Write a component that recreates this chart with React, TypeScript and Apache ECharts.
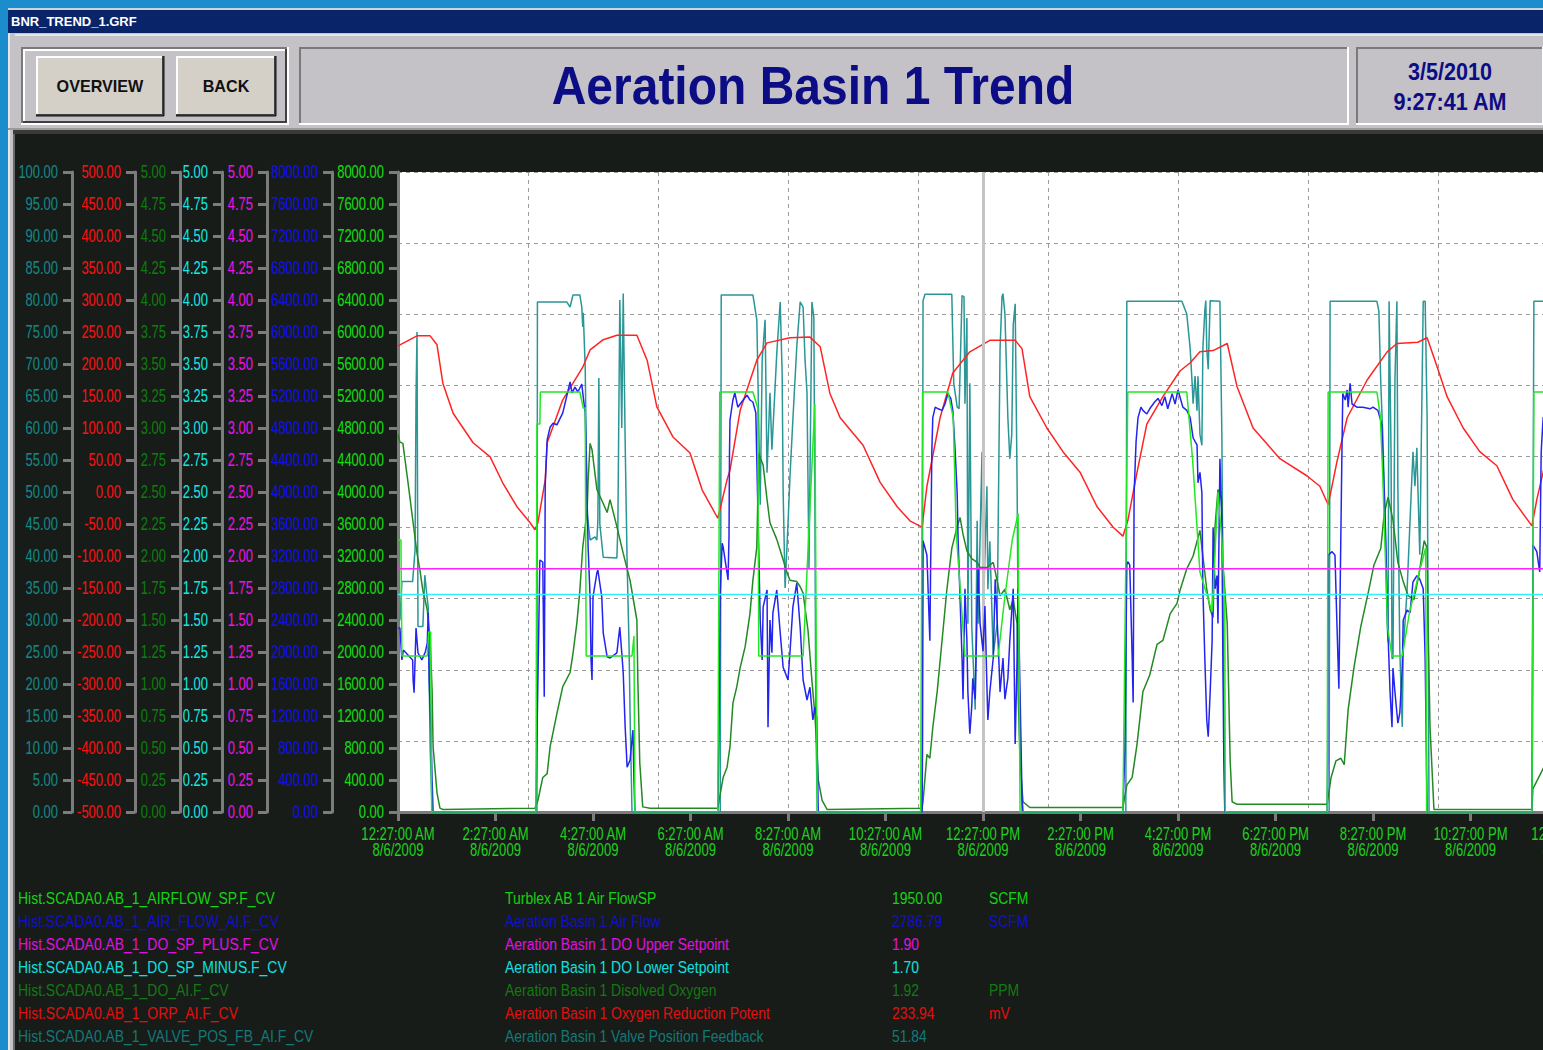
import React, { useEffect, useRef } from "react";
import * as echarts from "echarts";

// ---------------- DATA ----------------
const windowTitle = "BNR_TREND_1.GRF";
const chartTitle = "Aeration Basin 1 Trend";
const dateText = "3/5/2010";
const timeText = "9:27:41 AM";
const buttonLabels = ["OVERVIEW", "BACK"];

// x axis: hours since 12:27:00 AM 8/6/2009
const xTimeLabels = ["12:27:00 AM", "2:27:00 AM", "4:27:00 AM", "6:27:00 AM", "8:27:00 AM", "10:27:00 AM", "12:27:00 PM", "2:27:00 PM", "4:27:00 PM", "6:27:00 PM", "8:27:00 PM", "10:27:00 PM", "12:27:00 AM"];
const xDateLabels = ["8/6/2009", "8/6/2009", "8/6/2009", "8/6/2009", "8/6/2009", "8/6/2009", "8/6/2009", "8/6/2009", "8/6/2009", "8/6/2009", "8/6/2009", "8/6/2009", "8/7/2009"];
const xMin = 0;
const xMax = 24;
const xStep = 2;
const cursorHour = 12;

// y scales (valve %, ORP mV, DO, DO lower SP, DO upper SP, air flow, air flow SP)
const scaleMins = [0, -500, 0, 0, 0, 0, 0];
const scaleMaxs = [100, 500, 5, 5, 5, 8000, 8000];
const scaleSteps = [5, 50, 0.25, 0.25, 0.25, 400, 400];

// legend table
const legendTags = [
  "Hist.SCADA0.AB_1_AIRFLOW_SP.F_CV",
  "Hist.SCADA0.AB_1_AIR_FLOW_AI.F_CV",
  "Hist.SCADA0.AB_1_DO_SP_PLUS.F_CV",
  "Hist.SCADA0.AB_1_DO_SP_MINUS.F_CV",
  "Hist.SCADA0.AB_1_DO_AI.F_CV",
  "Hist.SCADA0.AB_1_ORP_AI.F_CV",
  "Hist.SCADA0.AB_1_VALVE_POS_FB_AI.F_CV",
];
const legendDescs = [
  "Turblex AB 1 Air FlowSP",
  "Aeration Basin 1 Air Flow",
  "Aeration Basin 1 DO Upper Setpoint",
  "Aeration Basin 1 DO Lower Setpoint",
  "Aeration Basin 1 Disolved Oxygen",
  "Aeration Basin 1 Oxygen Reduction Potent",
  "Aeration Basin 1 Valve Position Feedback",
];
const legendValues = ["1950.00", "2786.79", "1.90", "1.70", "1.92", "233.94", "51.84"];
const legendUnits = ["SCFM", "SCFM", "", "", "PPM", "mV", ""];

// series: [hour, value]
const doUpperSp = [[0, 1.9], [24, 1.9]];
const doLowerSp = [[0, 1.7], [24, 1.7]];

const orpData = [
  [0, 228], [0.04, 230], [0.39, 244], [0.66, 244], [0.8, 230], [0.92, 170], [1.13, 123], [1.54, 77], [1.89, 55], [2.15, 14], [2.44, -23], [2.71, -48], [2.81, -59], [2.87, -48], [3.02, 19], [3.06, 77],
  [3.38, 144], [3.79, 195], [3.94, 222], [4.21, 238], [4.49, 245], [4.9, 245], [5.11, 206], [5.31, 133], [5.64, 86], [5.99, 61], [6.24, 3], [6.56, -41], [6.75, 19], [6.81, 34], [7.02, 128],
  [7.36, 206], [7.57, 233], [8.04, 241], [8.45, 242], [8.66, 227], [8.86, 154], [9.07, 116], [9.54, 73], [9.89, 15], [10.24, -23], [10.5, -45], [10.75, -55], [10.85, 9], [11.12, 116],
  [11.38, 186], [11.73, 219], [12.14, 237], [12.66, 237], [12.8, 224], [12.96, 149], [13.31, 100], [13.64, 63], [13.99, 31], [14.34, -23], [14.67, -55], [14.87, -69], [14.97, -45],
  [15.16, 31], [15.36, 106], [15.69, 149], [16.04, 189], [16.25, 202], [16.45, 219], [16.72, 221], [17.01, 232], [17.21, 165], [17.54, 100], [18.09, 52], [18.65, 25], [18.91, 9],
  [19.08, -20], [19.26, 47], [19.47, 116], [19.88, 175], [20.29, 219], [20.49, 232], [20.92, 234], [21.11, 241], [21.31, 197], [21.52, 149], [21.85, 100], [22.19, 63], [22.54, 41],
  [22.87, -12], [23.26, -53], [23.36, -12], [23.49, 31], [23.75, 120], [24, 170],
];

const airFlowSpData = [
  [0, 3400], [0.06, 3400], [0.08, 1950], [0.6, 1950], [0.63, 2250], [0.67, 2250], [0.69, 0],
  [2.83, 0], [2.85, 4850], [2.91, 4850], [2.92, 5250], [3.73, 5250], [3.8, 5050], [3.84, 5050], [3.86, 1950], [4.8, 1950], [4.84, 2200], [4.86, 0],
  [6.56, 0], [6.6, 5250], [7.28, 5250], [7.38, 5050], [7.4, 1950], [8.31, 1950], [8.45, 3800], [8.55, 5100], [8.6, 0],
  [10.72, 0], [10.76, 5250], [11.28, 5250], [11.39, 4930], [11.45, 3500], [11.63, 1950], [12.31, 1950], [12.45, 2700], [12.6, 3400], [12.72, 3730], [12.76, 0],
  [14.87, 0], [14.97, 5250], [16.18, 5250], [16.3, 4400], [16.45, 3000], [16.7, 2500], [16.82, 4000], [16.9, 3400], [16.96, 2600], [16.97, 0],
  [19.06, 0], [19.08, 5250], [20.08, 5250], [20.15, 4950], [20.2, 4200], [20.3, 2300], [20.39, 1950], [20.6, 1950], [20.75, 2500], [20.95, 3000], [21.08, 3300], [21.1, 0],
  [23.26, 0], [23.3, 5250], [24, 5250],
];

const airFlowData = [
  [0, 2300], [0.04, 2300], [0.08, 1900], [0.11, 2025], [0.3, 1900], [0.31, 1650], [0.33, 1490], [0.37, 2300], [0.41, 1990], [0.49, 1900], [0.56, 2000], [0.6, 2110], [0.62, 2490], [0.64, 1650], [0.68, 900], [0.7, 400], [0.72, 0],
  [2.83, 0], [2.85, 900], [2.91, 3150], [2.97, 3125], [3.0, 1440], [3.02, 4090], [3.06, 4650], [3.12, 4810], [3.18, 4860], [3.26, 4840], [3.38, 4990], [3.53, 5375], [3.57, 5240], [3.63, 5310], [3.69, 5250], [3.77, 5350], [3.79, 5240], [3.84, 4990], [3.88, 3900], [3.9, 3310], [3.94, 2690], [3.96, 1900], [3.98, 1650], [4.0, 2690], [4.08, 2990], [4.1, 3025], [4.18, 2690], [4.21, 2240], [4.29, 1940], [4.35, 1925], [4.49, 1990], [4.55, 2310], [4.59, 1990], [4.62, 1740], [4.66, 1060], [4.7, 560], [4.76, 650], [4.82, 1025], [4.84, 400], [4.86, 0],
  [6.56, 0], [6.58, 810], [6.61, 2740], [6.65, 3360], [6.67, 3310], [6.75, 2990], [6.77, 2900], [6.79, 3440], [6.8, 4490], [6.81, 4900], [6.87, 5150], [6.91, 5240], [6.97, 5060], [7.08, 5150], [7.16, 5210], [7.22, 5150], [7.28, 5125], [7.34, 4990], [7.43, 2400], [7.47, 1900], [7.49, 2560], [7.57, 2775], [7.59, 1060], [7.63, 2400], [7.67, 1990], [7.69, 2490], [7.77, 2775], [7.84, 2240], [7.9, 1810], [8.0, 1650], [8.04, 1990], [8.1, 2560], [8.18, 2860], [8.25, 2310], [8.31, 1650], [8.39, 1400], [8.45, 1560], [8.51, 1150], [8.55, 1310], [8.59, 1190], [8.62, 0],
  [10.75, 0], [10.76, 894], [10.77, 3390], [10.85, 3210], [10.91, 2140], [10.95, 4500], [10.97, 4930], [11.02, 5060], [11.08, 5040], [11.16, 5020], [11.22, 5100], [11.28, 5230], [11.34, 5170], [11.38, 5020], [11.43, 4500], [11.47, 3990], [11.49, 3390], [11.57, 1925], [11.59, 1410], [11.63, 2790], [11.67, 2140], [11.69, 1500], [11.73, 980], [11.77, 1325], [11.79, 1670], [11.84, 1410], [11.88, 2575], [11.9, 3040], [11.94, 2355], [12.0, 2010], [12.04, 2575], [12.08, 1580], [12.1, 1150], [12.14, 1500], [12.21, 1925], [12.25, 2910], [12.31, 2140], [12.35, 1500], [12.41, 1925], [12.45, 1410], [12.51, 1670], [12.55, 2140], [12.62, 2790], [12.66, 850], [12.7, 1925], [12.72, 2790], [12.76, 1500], [12.8, 206], [12.82, 0],
  [14.87, 0], [14.91, 765], [14.95, 3090], [14.97, 3130], [15.01, 3090], [15.06, 1925], [15.08, 1370], [15.1, 3990], [15.14, 4630], [15.18, 4930], [15.24, 5060], [15.28, 5020], [15.36, 4975], [15.42, 5040], [15.52, 5125], [15.59, 5170], [15.67, 5080], [15.73, 5190], [15.79, 5040], [15.88, 5230], [15.94, 5100], [16.0, 5275], [16.1, 5060], [16.18, 5020], [16.25, 4930], [16.31, 4675], [16.39, 4590], [16.41, 4115], [16.45, 4245], [16.49, 3990], [16.51, 2790], [16.55, 1925], [16.59, 1150], [16.62, 940], [16.66, 1500], [16.7, 2140], [16.72, 3560], [16.76, 2790], [16.8, 2955], [16.82, 2355], [16.86, 4415], [16.9, 3645], [16.92, 1925], [16.94, 640], [16.96, 0],
  [19.06, 0], [19.07, 640], [19.08, 3210], [19.16, 3255], [19.22, 3210], [19.26, 2355], [19.3, 1540], [19.36, 4375], [19.38, 5230], [19.43, 5150], [19.47, 5275], [19.49, 5060], [19.53, 5360], [19.57, 5100], [19.67, 5060], [19.79, 5060], [19.94, 5040], [20.0, 5060], [20.1, 5020], [20.18, 4845], [20.25, 3645], [20.31, 2190], [20.35, 1500], [20.39, 1060], [20.41, 1800], [20.45, 1500], [20.49, 1240], [20.51, 1110], [20.55, 1240], [20.6, 1800], [20.62, 2400], [20.7, 2525], [20.76, 2490], [20.82, 2875], [20.9, 2955], [20.96, 2910], [21.03, 2790], [21.07, 1925], [21.11, 0],
  [23.26, 0], [23.27, 850], [23.28, 3340], [23.36, 3255], [23.42, 3000], [23.45, 4500], [23.49, 4930], [24, 5100],
];

const doData = [
  [0, 2.95], [0.04, 2.89], [0.1, 2.88], [0.2, 2.59], [0.25, 2.44], [0.31, 2.26], [0.39, 2.02], [0.45, 1.89], [0.51, 1.73], [0.6, 1.58], [0.62, 1.5], [0.66, 1.34], [0.7, 0.95], [0.72, 0.51], [0.8, 0.15], [0.86, 0.03], [0.92, 0.02],
  [2.81, 0.03], [2.87, 0.09], [2.97, 0.27], [3.06, 0.3], [3.12, 0.51], [3.18, 0.62], [3.26, 0.77], [3.38, 0.98], [3.53, 1.09], [3.59, 1.24], [3.67, 1.48], [3.73, 1.73], [3.79, 2.07], [3.88, 2.36], [3.9, 2.59], [3.94, 2.88], [3.98, 2.83], [4.08, 2.52], [4.21, 2.41], [4.29, 2.34], [4.35, 2.44], [4.39, 2.38], [4.49, 2.23], [4.62, 2.02], [4.76, 1.81], [4.9, 1.5], [4.92, 1.03], [4.96, 0.38], [5.02, 0.04], [5.17, 0.03],
  [6.56, 0.03], [6.67, 0.27], [6.75, 0.35], [6.81, 0.51], [6.87, 0.85], [6.95, 0.98], [7.02, 1.13], [7.12, 1.29], [7.22, 1.55], [7.28, 1.81], [7.36, 2.07], [7.4, 2.8], [7.43, 2.77], [7.49, 2.71], [7.57, 2.44], [7.63, 2.26], [7.77, 2.13], [7.9, 1.97], [7.98, 1.87], [8.04, 1.81], [8.18, 1.8], [8.25, 1.76], [8.31, 1.71], [8.41, 1.42], [8.49, 1.03], [8.55, 0.77], [8.59, 0.51], [8.62, 0.25], [8.7, 0.09], [8.8, 0.02],
  [10.75, 0.03], [10.77, 0.08], [10.85, 0.45], [10.91, 0.42], [10.97, 0.66], [11.06, 0.94], [11.16, 1.34], [11.26, 1.74], [11.36, 2.06], [11.47, 2.23], [11.53, 2.3], [11.59, 2.17], [11.67, 2.04], [11.77, 1.98], [11.88, 1.95], [11.94, 1.91], [12.08, 1.91], [12.21, 1.95], [12.25, 1.88], [12.35, 1.69], [12.45, 1.74], [12.55, 1.58], [12.62, 1.66], [12.7, 1.47], [12.72, 0.94], [12.76, 0.4], [12.82, 0.08], [12.96, 0.035],
  [14.87, 0.035], [14.95, 0.21], [15.06, 0.27], [15.16, 0.53], [15.28, 0.94], [15.42, 1.07], [15.57, 1.31], [15.69, 1.34], [15.84, 1.55], [15.98, 1.63], [16.04, 1.73], [16.18, 1.9], [16.31, 2.0], [16.45, 2.2], [16.51, 2.0], [16.59, 1.74], [16.66, 1.58], [16.72, 1.52], [16.76, 2.23], [16.82, 2.52], [16.9, 2.44], [16.92, 1.95], [17.01, 1.47], [17.07, 0.4], [17.11, 0.08], [17.21, 0.06],
  [19.06, 0.06], [19.14, 0.27], [19.24, 0.4], [19.34, 0.42], [19.41, 0.37], [19.49, 0.8], [19.61, 1.13], [19.75, 1.45], [19.9, 1.71], [20.02, 1.93], [20.16, 2.06], [20.23, 2.33], [20.31, 2.46], [20.41, 2.28], [20.51, 1.95], [20.62, 1.8], [20.72, 1.69], [20.84, 1.66], [20.94, 1.85], [21.05, 2.12], [21.11, 2.06], [21.13, 1.47], [21.17, 0.66], [21.25, 0.02],
  [23.26, 0.02], [23.28, 0.18], [23.49, 0.34], [24, 0.6],
];

const valveData = [
  [0, 30], [0.04, 30], [0.08, 36], [0.3, 36], [0.35, 41], [0.37, 65], [0.39, 75], [0.41, 29], [0.51, 29], [0.55, 37], [0.59, 34], [0.62, 32], [0.66, 10], [0.7, 0],
  [2.85, 0], [2.86, 79.7], [3.46, 79.7], [3.53, 78.9], [3.59, 80.8], [3.73, 80.8], [3.77, 78.9], [3.79, 75.8], [3.8, 78], [3.84, 69.5], [3.88, 46.7], [3.94, 42.5], [4.04, 43], [4.08, 42.5], [4.1, 45.6], [4.12, 67.8], [4.14, 45], [4.21, 39.8], [4.49, 39.7], [4.51, 44.5], [4.55, 80], [4.59, 60], [4.62, 81], [4.66, 57.7], [4.7, 38.9], [4.74, 25.8], [4.76, 15.5], [4.8, 0],
  [6.61, 0], [6.63, 80.8], [7.28, 80.8], [7.32, 78.9], [7.36, 76.9], [7.38, 69], [7.43, 48], [7.47, 70.6], [7.53, 76.9], [7.57, 53], [7.63, 65.5], [7.67, 56.6], [7.77, 71.7], [7.84, 79.7], [7.88, 68.6], [7.9, 50.3], [7.94, 35], [8.0, 45], [8.04, 52.3], [8.1, 61.3], [8.18, 72.7], [8.25, 79.7], [8.31, 78.9], [8.35, 70.6], [8.39, 65.5], [8.43, 38], [8.49, 79.7], [8.53, 77.3], [8.55, 50.3], [8.57, 15.5], [8.6, 0],
  [10.75, 0], [10.77, 79.9], [10.81, 80.9], [11.36, 80.9], [11.4, 67], [11.47, 63.3], [11.51, 63], [11.57, 80.7], [11.61, 80.5], [11.63, 63.8], [11.67, 77.2], [11.69, 29.4], [11.73, 67], [11.77, 28.9], [11.84, 16], [11.88, 45.5], [11.9, 29.4], [11.98, 56.3], [12.0, 29.4], [12.08, 50.9], [12.1, 34.8], [12.14, 42.3], [12.21, 24.6], [12.29, 29.4], [12.35, 72.4], [12.39, 80.5], [12.41, 81], [12.45, 77.8], [12.51, 61.6], [12.55, 55.2], [12.59, 59], [12.62, 76.1], [12.66, 79.4], [12.7, 50.9], [12.72, 29.4], [12.76, 13.3], [12.8, 0],
  [14.93, 0], [14.95, 79.8], [16.08, 79.8], [16.18, 77.8], [16.25, 72.4], [16.29, 67], [16.31, 63.8], [16.35, 68.1], [16.39, 62.7], [16.41, 68.1], [16.45, 59], [16.49, 57.3], [16.51, 72.4], [16.55, 78.3], [16.57, 79.9], [16.59, 72.4], [16.62, 69.2], [16.66, 79.9], [16.86, 79.8], [16.9, 59], [16.92, 34.8], [16.94, 18.75], [16.96, 0],
  [19.1, 0], [19.12, 79.8], [20.08, 79.8], [20.12, 78.3], [20.16, 67], [20.2, 59], [20.25, 45.5], [20.29, 29.4], [20.31, 26.6], [20.33, 79.8], [20.37, 56.3], [20.39, 24], [20.41, 24], [20.45, 67.5], [20.49, 79.8], [20.51, 50.9], [20.55, 25.2], [20.6, 13.3], [20.62, 25.2], [20.7, 34.8], [20.82, 56.3], [20.86, 50.9], [20.9, 56.9], [20.92, 50.9], [20.96, 40.2], [21.03, 79.8], [21.07, 79.8], [21.11, 61.6], [21.13, 29.4], [21.15, 0],
  [23.26, 0], [23.3, 79.8], [24, 79.8],
];

// ---------------- STYLE ----------------
const SANS = "'Liberation Sans', Arial, sans-serif";
const axisLineX = [72, 135, 180, 222, 267, 332, 398];
const axisLabelColors = ["#138a8a", "#ff1010", "#0a800a", "#10e8e8", "#f010f0", "#1010f0", "#10e010"];
const legendColors = ["#14d214", "#1010c8", "#e010e0", "#10e0e0", "#147814", "#e01010", "#127878"];
const GRID_LEFT = 398;
const GRID_TOP = 172;
const GRID_W = 1170;
const GRID_H = 640;
const PANEL = "#c4c2c6";

function bevel(x: number, y: number, w: number, h: number, raised: boolean, fill: string) {
  const tl = raised ? "#ffffff" : "#7a7a7a";
  const br = raised ? "#404040" : "#ffffff";
  return [
    { type: "rect", shape: { x, y, width: w, height: h }, style: { fill } },
    { type: "line", shape: { x1: x, y1: y + 1, x2: x + w, y2: y + 1 }, style: { stroke: tl, lineWidth: 2 } },
    { type: "line", shape: { x1: x + 1, y1: y, x2: x + 1, y2: y + h }, style: { stroke: tl, lineWidth: 2 } },
    { type: "line", shape: { x1: x, y1: y + h - 1, x2: x + w, y2: y + h - 1 }, style: { stroke: br, lineWidth: 2 } },
    { type: "line", shape: { x1: x + w - 1, y1: y, x2: x + w - 1, y2: y + h }, style: { stroke: br, lineWidth: 2 } },
  ];
}

function txt(text: string, x: number, y: number, opts: any) {
  return {
    type: "text",
    x,
    y,
    scaleX: opts.scaleX ?? 1,
    scaleY: opts.scaleY ?? 1,
    silent: true,
    style: {
      text,
      fill: opts.fill,
      fontSize: opts.size,
      fontFamily: SANS,
      fontWeight: opts.weight ?? "normal",
      lineHeight: opts.lineHeight,
      textAlign: opts.align ?? "left",
      textVerticalAlign: opts.valign ?? "middle",
    },
  };
}

function chromeGraphics() {
  const els: any[] = [];
  els.push({ type: "rect", shape: { x: 0, y: 0, width: 1570, height: 9 }, style: { fill: "#1b8ccc" } });
  els.push({ type: "rect", shape: { x: 0, y: 0, width: 8, height: 1050 }, style: { fill: "#1b8ccc" } });
  els.push({ type: "rect", shape: { x: 8, y: 8, width: 1562, height: 2 }, style: { fill: "#c8d4e0" } });
  els.push({ type: "rect", shape: { x: 8, y: 10, width: 1562, height: 23 }, style: { fill: "#0a246a" } });
  els.push(txt(windowTitle, 11, 21, { fill: "#ffffff", size: 13, weight: "bold" }));
  els.push({ type: "rect", shape: { x: 8, y: 33, width: 1562, height: 98 }, style: { fill: PANEL } });
  els.push({ type: "rect", shape: { x: 8, y: 34, width: 1562, height: 2 }, style: { fill: "#e6e6e6" } });
  els.push({ type: "rect", shape: { x: 8, y: 33, width: 7, height: 1017 }, style: { fill: PANEL } });
  els.push({ type: "rect", shape: { x: 8, y: 33, width: 2, height: 1017 }, style: { fill: "#e6e6e6" } });
  els.push({ type: "rect", shape: { x: 13, y: 131, width: 2, height: 919 }, style: { fill: "#6a6a6a" } });
  els.push({ type: "rect", shape: { x: 8, y: 128, width: 1562, height: 2 }, style: { fill: "#9a9a9a" } });
  els.push({ type: "rect", shape: { x: 13, y: 130, width: 1557, height: 4 }, style: { fill: "#3a3a3a" } });
  els.push(...bevel(21, 47, 268, 78, false, PANEL));
  els.push(...bevel(23, 49, 264, 74, true, PANEL));
  els.push(...bevel(36, 56, 128, 60, true, "#d4d0c8"));
  els.push({ type: "line", shape: { x1: 36, y1: 116, x2: 164, y2: 116 }, style: { stroke: "#101010", lineWidth: 1 } });
  els.push({ type: "line", shape: { x1: 164, y1: 56, x2: 164, y2: 116 }, style: { stroke: "#101010", lineWidth: 1 } });
  els.push(txt(buttonLabels[0], 100, 86, { fill: "#101010", size: 17, weight: "bold", align: "center", scaleX: 0.95 }));
  els.push(...bevel(176, 56, 100, 60, true, "#d4d0c8"));
  els.push({ type: "line", shape: { x1: 176, y1: 116, x2: 276, y2: 116 }, style: { stroke: "#101010", lineWidth: 1 } });
  els.push({ type: "line", shape: { x1: 276, y1: 56, x2: 276, y2: 116 }, style: { stroke: "#101010", lineWidth: 1 } });
  els.push(txt(buttonLabels[1], 226, 86, { fill: "#101010", size: 17, weight: "bold", align: "center", scaleX: 0.95 }));
  els.push(...bevel(299, 47, 1050, 78, false, PANEL));
  els.push(txt(chartTitle, 813, 86, { fill: "#0c0c84", size: 48, weight: "bold", align: "center", scaleY: 1.1 }));
  els.push(...bevel(1356, 47, 188, 78, false, PANEL));
  els.push(txt(dateText, 1450, 72, { fill: "#0c0c84", size: 24, weight: "bold", align: "center", scaleX: 0.9 }));
  els.push(txt(timeText, 1450, 102, { fill: "#0c0c84", size: 24, weight: "bold", align: "center", scaleX: 0.9 }));
  // legend table (narrow lettering)
  const colX = [18, 505, 892, 989];
  for (let i = 0; i < legendTags.length; i++) {
    const y = 898 + i * 23;
    const cells = [legendTags[i], legendDescs[i], legendValues[i], legendUnits[i]];
    cells.forEach((t, k) => {
      if (t) els.push(txt(t, colX[k], y, { fill: legendColors[i], size: 16.5, scaleX: 0.845 }));
    });
  }
  return els;
}

// Tick labels drawn in the narrow SCADA lettering, placed through the axes' own scales
function tickLabelGraphics(chart: any) {
  const els: any[] = [];
  scaleMins.forEach((mn, i) => {
    const n = Math.round((scaleMaxs[i] - mn) / scaleSteps[i]);
    for (let k = 0; k <= n; k++) {
      const v = mn + k * scaleSteps[i];
      const py = chart.convertToPixel({ yAxisIndex: i }, v);
      els.push(txt(v.toFixed(2), axisLineX[i] - 14, py, { fill: axisLabelColors[i], size: 18, scaleX: 0.72, align: "right" }));
    }
  });
  for (let k = 0; k < xTimeLabels.length; k++) {
    const px = chart.convertToPixel({ xAxisIndex: 0 }, xMin + k * xStep);
    els.push(txt(xTimeLabels[k] + "\n" + xDateLabels[k], px, 826, { fill: "#1ed21e", size: 18, scaleX: 0.725, align: "center", valign: "top", lineHeight: 15.5 }));
  }
  return els;
}

function buildOption() {
  const yAxes: any[] = scaleMins.map((mn, i) => ({
    type: "value",
    gridIndex: 0,
    position: "left",
    offset: GRID_LEFT - axisLineX[i],
    min: mn,
    max: scaleMaxs[i],
    interval: scaleSteps[i],
    axisLine: { show: true, onZero: false, lineStyle: { color: "#7c7c7c", width: 3 } },
    axisTick: { show: true, length: 9, lineStyle: { color: "#7c7c7c", width: 3 } },
    axisLabel: { show: false },
    splitLine: { show: false },
  }));
  yAxes.push({
    type: "value",
    gridIndex: 0,
    position: "right",
    min: 0,
    max: 9,
    interval: 1,
    axisLine: { show: false },
    axisTick: { show: false },
    axisLabel: { show: false },
    splitLine: { show: true, lineStyle: { color: "#9c9c9c", type: [4, 4], width: 1 } },
  });

  const xAxes: any[] = [
    {
      type: "value",
      gridIndex: 0,
      min: xMin,
      max: xMax,
      interval: xStep,
      axisLine: { show: true, onZero: false, lineStyle: { color: "#7c7c7c", width: 3 } },
      axisTick: { show: true, length: 9, lineStyle: { color: "#7c7c7c", width: 3 } },
      axisLabel: { show: false },
      splitLine: { show: false },
    },
    {
      type: "value",
      gridIndex: 0,
      position: "top",
      min: 0,
      max: 9,
      interval: 1,
      axisLine: { show: false },
      axisTick: { show: false },
      axisLabel: { show: false },
      splitLine: { show: true, lineStyle: { color: "#9c9c9c", type: [4, 4], width: 1 } },
    },
  ];

  const line = (name: string, data: number[][], yIdx: number, color: string, z: number, extra: any = {}) => ({
    type: "line",
    name,
    data,
    xAxisIndex: 0,
    yAxisIndex: yIdx,
    showSymbol: false,
    symbol: "none",
    silent: true,
    clip: true,
    z,
    lineStyle: { color, width: 1.5 },
    itemStyle: { color },
    ...extra,
  });

  const series = [
    line(legendDescs[6], valveData, 0, "#2a9696", 3, {
      markLine: {
        silent: true,
        symbol: ["none", "none"],
        label: { show: false },
        lineStyle: { color: "#c4c4c4", width: 3, type: "solid" },
        data: [{ xAxis: cursorHour }],
      },
    }),
    line(legendDescs[5], orpData, 1, "#ff2424", 4),
    line(legendDescs[4], doData, 2, "#228a22", 5),
    line(legendDescs[1], airFlowData, 5, "#2424f0", 6),
    line(legendDescs[0], airFlowSpData, 6, "#22e822", 7),
    line(legendDescs[3], doLowerSp, 3, "#30f0ff", 8),
    line(legendDescs[2], doUpperSp, 4, "#ff22ff", 9),
  ];

  return {
    animation: false,
    backgroundColor: "#181c18",
    grid: {
      left: GRID_LEFT,
      top: GRID_TOP,
      width: GRID_W,
      height: GRID_H,
      show: true,
      backgroundColor: "#ffffff",
      borderWidth: 0,
      containLabel: false,
      outerBoundsMode: "none",
    },
    xAxis: xAxes,
    yAxis: yAxes,
    series,
  };
}

export default function App() {
  const ref = useRef<HTMLDivElement>(null);
  useEffect(() => {
    if (!ref.current) return;
    const chart = echarts.init(ref.current, undefined, { renderer: "svg" });
    chart.setOption(buildOption() as any);
    chart.setOption({ graphic: { elements: [...chromeGraphics(), ...tickLabelGraphics(chart)] } } as any);
    return () => chart.dispose();
  }, []);
  return (
    <div style={{ position: "fixed", left: 0, top: 0, width: 1543, height: 1050, overflow: "hidden", background: "#181c18" }}>
      <div ref={ref} style={{ width: 1570, height: 1050 }} />
    </div>
  );
}
